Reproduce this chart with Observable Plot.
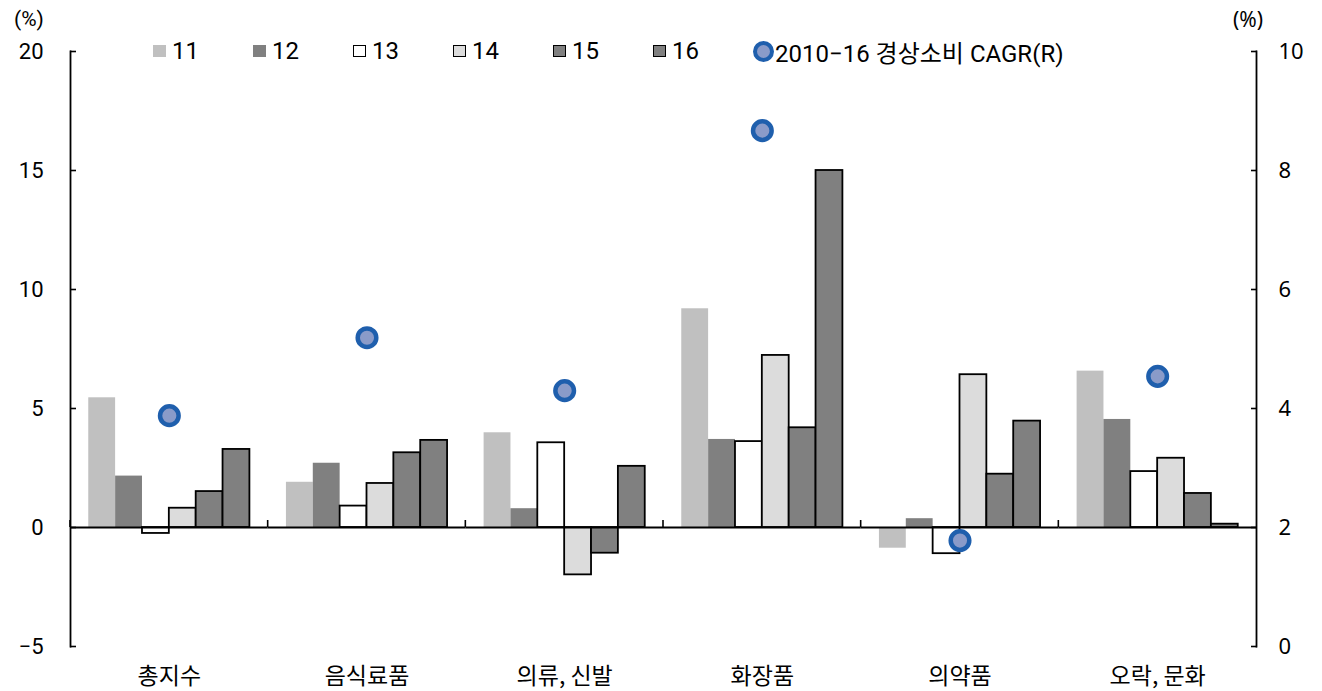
<!DOCTYPE html>
<html>
<head>
<meta charset="utf-8">
<script src="https://cdn.jsdelivr.net/npm/d3@7"></script>
<script src="https://cdn.jsdelivr.net/npm/@observablehq/plot@0.6"></script>
<style>
  html, body { margin: 0; padding: 0; background: #fff; }
  #wrap { position: relative; width: 1322px; height: 691px; font-family: Roboto, "Noto Sans CJK KR", sans-serif; color: #000; }
  .unit { position: absolute; top: 4px; font-size: 21px; line-height: 30px; }
  #legend { position: absolute; top: 36px; left: 153px; height: 30px; display: flex; align-items: center; font-size: 24px; }
  .item { display: flex; align-items: center; width: 100px; }
  .sw { width: 13px; height: 12px; box-sizing: border-box; margin-right: 6px; }
  .dotsw { width: 21px; height: 21px; border-radius: 50%; box-sizing: border-box; border: 4.5px solid #1f5fad; background: #8a9bc9; margin-right: 1px; }
</style>
</head>
<body>
<div id="wrap">
  <div class="unit" style="left:14px">(%)</div>
  <div class="unit" style="left:1233px; font-family: 'Noto Sans', sans-serif;">(%)</div>
  <div id="legend"></div>
</div>
<script>
// Categories and year-on-year growth by year (left axis, %)
const categories = ["총지수", "음식료품", "의류, 신발", "화장품", "의약품", "오락, 문화"];
const years = ["11", "12", "13", "14", "15", "16"];
const y11 = [5.45, 1.90, 3.98, 9.19, -0.87, 6.57];
const y12 = [2.16, 2.70, 0.79, 3.70, 0.37, 4.54];
const y13 = [-0.25, 0.90, 3.56, 3.61, -1.10, 2.35];
const y14 = [0.81, 1.85, -1.99, 7.23, 6.42, 2.91];
const y15 = [1.51, 3.14, -1.08, 4.19, 2.24, 1.43];
const y16 = [3.28, 3.66, 2.57, 15.0, 4.47, 0.14];
// 2010-16 CAGR of nominal consumption (right axis, %)
const cagr = [3.88, 5.19, 4.30, 8.67, 1.78, 4.54];
const leftTicks = [-5, 0, 5, 10, 15, 20];

const fills = {"11": "#c0c0c0", "12": "#808080", "13": "#ffffff", "14": "#dcdcdc", "15": "#808080", "16": "#808080"};
const outlined = new Set(["13", "14", "15", "16"]);

const series = [y11, y12, y13, y14, y15, y16];
const rows = [];
categories.forEach((c, i) => years.forEach((yr, j) => rows.push({category: c, year: yr, value: series[j][i]})));
const cagrRows = categories.map((c, i) => ({category: c, cagr: cagr[i]}));

// right axis (0..10) maps onto left axis (-5..20): 2 ↔ 0, 10 ↔ 20
const toLeft = r => (r - 2) * 2.5;
const toRight = v => v / 2.5 + 2;

// short separator tick on the zero line at the left edge of each category panel
function separatorTick(index, {y}, values, dims) {
  const x0 = dims.marginLeft;
  return d3.create("svg:line")
    .attr("x1", x0).attr("x2", x0)
    .attr("y1", y(0)).attr("y2", y(0) - 7)
    .attr("stroke", "#000").attr("stroke-width", 1.6)
    .node();
}

const chart = Plot.plot({
  width: 1322,
  height: 691,
  marginLeft: 70,
  marginRight: 66,
  marginTop: 51,
  marginBottom: 45,
  style: {fontFamily: "Roboto, 'Noto Sans CJK KR', sans-serif", fontSize: "21px", color: "#000", background: "#fff"},
  fx: {domain: categories, padding: 0, round: false, label: null},
  x: {domain: years, paddingInner: 0, paddingOuter: 0.68, round: false, axis: null},
  y: {domain: [-5, 20], label: null},
  marks: [
    Plot.barY(rows.filter(d => !outlined.has(d.year)), {fx: "category", x: "year", y: "value", fill: d => fills[d.year]}),
    Plot.barY(rows.filter(d => outlined.has(d.year)), {fx: "category", x: "year", y: "value", fill: d => fills[d.year], stroke: "#000", strokeWidth: 1.8}),
    Plot.ruleY([0], {stroke: "#000", strokeWidth: 1.8}),
    separatorTick,
    Plot.frame({anchor: "left", facetAnchor: "left", stroke: "#000", strokeWidth: 1.8}),
    Plot.frame({anchor: "right", facetAnchor: "right", stroke: "#000", strokeWidth: 1.8}),
    Plot.dot(cagrRows, {fx: "category", y: d => toLeft(d.cagr), r: 9.3, fill: "#8a9bc9", stroke: "#1f5fad", strokeWidth: 4.5}),
    Plot.axisY({anchor: "left", ticks: leftTicks, tickSize: -6, tickPadding: 33, fontSize: 22, strokeWidth: 1.6, label: null, tickFormat: d => d < 0 ? "−" + Math.abs(d) : String(d)}),
    Plot.axisY({anchor: "right", ticks: leftTicks, tickSize: -6, tickPadding: 28, fontSize: 22, strokeWidth: 1.6, fontFamily: "'Noto Sans', sans-serif", label: null, tickFormat: d => String(toRight(d))}),
    Plot.axisFx({anchor: "bottom", tickSize: 0, tickPadding: 21, fontSize: 23, fontFamily: "'Noto Sans CJK KR', sans-serif", label: null})
  ]
});
document.getElementById("wrap").prepend(chart);

// legend
const legend = d3.select("#legend");
years.forEach(yr => {
  const it = legend.append("div").attr("class", "item");
  it.append("div").attr("class", "sw")
    .style("background", fills[yr])
    .style("border", outlined.has(yr) ? "1.5px solid #000" : "none");
  it.append("span").text(yr);
});
const last = legend.append("div").attr("class", "item").style("width", "auto");
last.append("div").attr("class", "dotsw");
last.append("span").text("2010−16 경상소비 CAGR(R)");
</script>
</body>
</html>
